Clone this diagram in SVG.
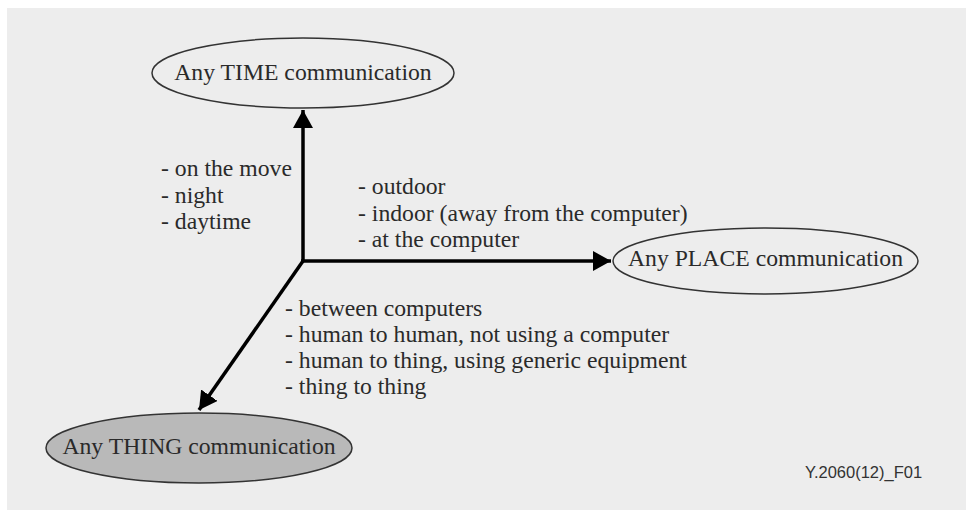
<svg xmlns="http://www.w3.org/2000/svg" width="966" height="510" viewBox="0 0 966 510">
<style>
.t{font-family:"Liberation Serif","Times New Roman",serif;font-size:23.7px;fill:#2a2a2a}
.c{text-anchor:middle}
.e{stroke:#333;stroke-width:1.5}
.ax{stroke:#000;stroke-width:3.5;fill:none}
.f{font-family:"Liberation Sans",Arial,sans-serif;font-size:16.5px;fill:#333}
</style>
<defs>
<marker id="ah" markerUnits="userSpaceOnUse" markerWidth="20" markerHeight="20" refX="18" refY="10" orient="auto">
<path d="M0,0 L18,10 L0,20 Z" fill="#000"/>
</marker>
</defs>
<rect width="966" height="510" fill="#ffffff"/>
<rect x="7" y="8" width="959" height="502" fill="#ededed"/>
<g id="connectors">
<line class="ax" x1="303" y1="262" x2="303" y2="110" marker-end="url(#ah)"/>
<line class="ax" x1="301" y1="261" x2="611" y2="261" marker-end="url(#ah)"/>
<line class="ax" x1="303" y1="261" x2="199" y2="410" marker-end="url(#ah)"/>
</g>
<g id="time">
<ellipse class="e" cx="303" cy="73" rx="151" ry="35" fill="#ededed"/>
<text class="t c" x="303" y="80">Any TIME communication</text>
</g>
<g id="place">
<ellipse class="e" cx="765.5" cy="261" rx="152.5" ry="33" fill="#ededed"/>
<text class="t c" x="765.5" y="266">Any PLACE communication</text>
</g>
<g id="thing">
<ellipse class="e" cx="199" cy="448" rx="153" ry="35" fill="#b9b9b9"/>
<text class="t c" x="199" y="454">Any THING communication</text>
</g>
<g id="time-labels">
<text class="t" x="161" y="176">- on the move</text>
<text class="t" x="161" y="203">- night</text>
<text class="t" x="161" y="229">- daytime</text>
</g>
<g id="place-labels">
<text class="t" x="358" y="194">- outdoor</text>
<text class="t" x="358" y="221">- indoor (away from the computer)</text>
<text class="t" x="358" y="247">- at the computer</text>
</g>
<g id="thing-labels">
<text class="t" x="285" y="316">- between computers</text>
<text class="t" x="285" y="342">- human to human, not using a computer</text>
<text class="t" x="285" y="368">- human to thing, using generic equipment</text>
<text class="t" x="285" y="394">- thing to thing</text>
</g>
<text class="f" x="805" y="478">Y.2060(12)_F01</text>
</svg>
